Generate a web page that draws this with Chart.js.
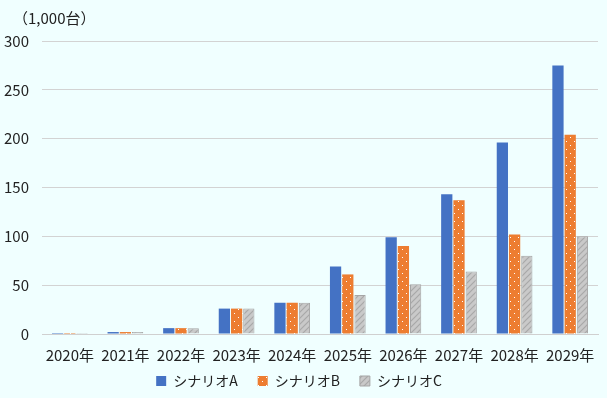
<!DOCTYPE html>
<html>
<head>
<meta charset="utf-8">
<script src="https://cdn.jsdelivr.net/npm/chart.js@4"></script>
<style>
  html, body { margin: 0; padding: 0; background: #F0FFFF; }
  #wrap { width: 607px; height: 398px; }
</style>
</head>
<body>
<div id="wrap"><canvas id="chart"></canvas></div>
<script>
// データ
const years = ['2020年', '2021年', '2022年', '2023年', '2024年', '2025年', '2026年', '2027年', '2028年', '2029年'];
const scenarioA = [1, 2, 6, 26, 32, 69, 99, 143, 196, 275];
const scenarioB = [1, 2, 6, 26, 32, 61, 90, 137, 102, 204];
const scenarioC = [1, 2, 6, 26, 32, 40, 51, 64, 80, 100];
const yTicks = [0, 50, 100, 150, 200, 250, 300];
const unitLabel = '（1,000台）';

const FONT = "'Noto Sans CJK JP', 'Noto Sans', sans-serif";

// 模様（ドット・斜線）
function dotPattern() {
    const c = document.createElement('canvas');
    c.width = 8; c.height = 8;
    const g = c.getContext('2d');
    g.fillStyle = '#ED7D31';
    g.fillRect(0, 0, 8, 8);
    g.fillStyle = '#FFFFFF';
    g.fillRect(2, 1, 1, 1);
    g.fillRect(6, 5, 1, 1);
    return g.createPattern(c, 'repeat');
}

function hatchPattern() {
    const c = document.createElement('canvas');
    c.width = 6; c.height = 6;
    const g = c.getContext('2d');
    g.fillStyle = '#C9C9C9';
    g.fillRect(0, 0, 6, 6);
    g.strokeStyle = '#A8A8A8';
    g.lineWidth = 1.2;
    g.beginPath();
    g.moveTo(0, 6); g.lineTo(6, 0);
    g.moveTo(-3, 3); g.lineTo(3, -3);
    g.moveTo(3, 9); g.lineTo(9, 3);
    g.stroke();
    return g.createPattern(c, 'repeat');
}

const bgPlugin = {
    id: 'bg',
    beforeDraw(chart) {
        const ctx = chart.ctx;
        ctx.save();
        ctx.fillStyle = '#F0FFFF';
        ctx.fillRect(0, 0, chart.width, chart.height);
        ctx.restore();
    }
};

const unitPlugin = {
    id: 'unit',
    afterDraw(chart) {
        const ctx = chart.ctx;
        ctx.save();
        ctx.font = '15px ' + FONT;
        ctx.fillStyle = '#222222';
        ctx.textBaseline = 'middle';
        ctx.fillText(unitLabel, 13, 18);
        ctx.restore();
    }
};

new Chart(document.getElementById('chart'), {
    type: 'bar',
    data: {
        labels: years,
        datasets: [
            { label: 'シナリオA', data: scenarioA, backgroundColor: '#4472C4', borderWidth: 0 },
            { label: 'シナリオB', data: scenarioB, backgroundColor: dotPattern(), borderWidth: 0 },
            { label: 'シナリオC', data: scenarioC, backgroundColor: hatchPattern(), borderColor: '#A5A5A5', borderWidth: 1 }
        ]
    },
    options: {
        responsive: true,
        maintainAspectRatio: false,
        animation: false,
        layout: { padding: { top: 41, right: 9, left: 0, bottom: 0 } },
        datasets: { bar: { categoryPercentage: 0.66, barPercentage: 0.92 } },
        scales: {
            x: {
                grid: { display: false },
                border: { color: '#D0D0D0' },
                ticks: { color: '#222', font: { family: FONT, size: 15 }, maxRotation: 0, padding: 4 }
            },
            y: {
                min: 0, max: 300,
                afterBuildTicks(axis) { axis.ticks = yTicks.map(v => ({ value: v })); },
                afterFit(axis) { axis.width = 42; },
                grid: { color: '#D3D3D3', drawTicks: false },
                border: { display: false },
                ticks: { color: '#222', font: { family: FONT, size: 15 }, padding: 13 }
            }
        },
        plugins: {
            legend: {
                position: 'bottom',
                labels: {
                    color: '#222',
                    font: { family: FONT, size: 14 },
                    boxWidth: 10, boxHeight: 10,
                    padding: 6,
                    // 凡例の項目間を広げる
                    generateLabels(chart) {
                        const items = Chart.defaults.plugins.legend.labels.generateLabels(chart);
                        items.forEach((it, i) => {
                            if (i < items.length - 1) it.text += '\u3000';
                        });
                        return items;
                    }
                }
            },
            tooltip: { enabled: false }
        }
    },
    plugins: [bgPlugin, unitPlugin]
});
</script>
</body>
</html>
